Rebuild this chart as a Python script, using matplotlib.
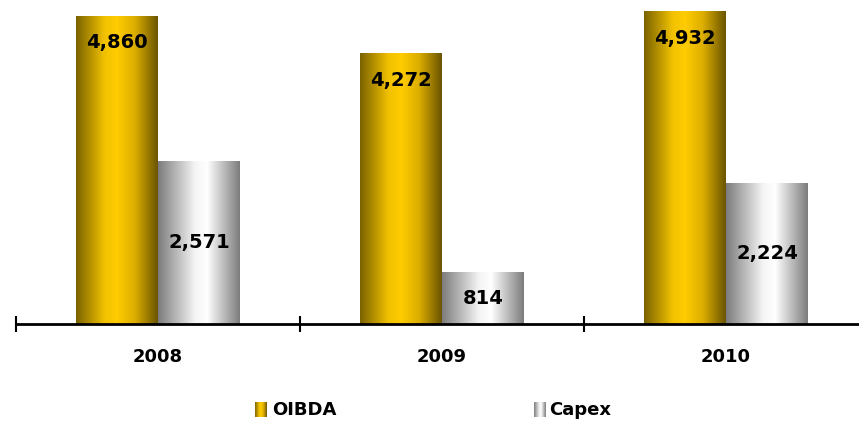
import numpy as np
import matplotlib
matplotlib.use("Agg")
import matplotlib.pyplot as plt
from matplotlib.colors import LinearSegmentedColormap

years = ["2008", "2009", "2010"]
oibda = [4860, 4272, 4932]
capex = [2571, 814, 2224]
series_names = ["OIBDA", "Capex"]

gold = LinearSegmentedColormap.from_list(
    "gold", [(0, "#7a6200"), (0.35, "#f2c200"), (0.5, "#ffcc00"), (0.72, "#dcae00"), (1, "#6a5400")])
grey = LinearSegmentedColormap.from_list(
    "grey", [(0, "#7c7c7c"), (0.45, "#f4f4f4"), (0.6, "#ffffff"), (1, "#7c7c7c")])
grad = np.linspace(0, 1, 256).reshape(1, -1)


def gradient_bars(ax, bars, cmap):
    for b in bars:
        x0, y0 = b.get_x(), b.get_y()
        w, h = b.get_width(), b.get_height()
        ax.imshow(grad, cmap=cmap, aspect="auto", extent=[x0, x0 + w, y0, y0 + h],
                  interpolation="bicubic", zorder=2)


W, H = 859, 421
fig = plt.figure(figsize=(W / 100, H / 100), dpi=100)
ax = fig.add_axes([16 / W, 97 / H, (W - 16) / W, 324 / H])

x = np.arange(len(years))
bw = 0.286
off = 0.1446
b1 = ax.bar(x - off, oibda, bw, color="none", edgecolor="none")
b2 = ax.bar(x + off, capex, bw, color="none", edgecolor="none")
gradient_bars(ax, b1, gold)
gradient_bars(ax, b2, grey)

for xi, v in zip(x, oibda):
    ax.annotate(f"{v:,}", (xi - off, v), xytext=(0, -19), textcoords="offset points",
                ha="center", va="center", fontsize=14, fontweight="bold", zorder=3)
for xi, v in zip(x, capex):
    ax.text(xi + off, v / 2, f"{v:,}", ha="center", va="center",
            fontsize=14, fontweight="bold", zorder=3)

ax.set_xticks(x)
ax.set_xticklabels(years, fontsize=13, fontweight="bold")
ax.set_xticks([-0.5, 0.5, 1.5, 2.5], minor=True)
ax.tick_params(axis="x", which="major", length=0, pad=17)
ax.tick_params(axis="x", which="minor", direction="inout", length=11, width=1.5)
ax.set_yticks([])
ax.set_xlim(-0.5, -0.5 + (W - 16) / 284)
ax.set_ylim(0, 5121)
for s in ["left", "right", "top"]:
    ax.spines[s].set_visible(False)
ax.spines["bottom"].set_linewidth(2)
ax.spines["bottom"].set_zorder(4)

# legend
for cmap, name, sx, tx in [(gold, series_names[0], 255, 272), (grey, series_names[1], 534, 549)]:
    sw = fig.add_axes([sx / W, (H - 417) / H, 12 / W, 15 / H])
    sw.imshow(grad, cmap=cmap, aspect="auto", interpolation="bicubic")
    sw.axis("off")
    fig.text(tx / W, (H - 410) / H, name, ha="left", va="center",
             fontsize=13, fontweight="bold")

fig.savefig("out.png", dpi=100)
